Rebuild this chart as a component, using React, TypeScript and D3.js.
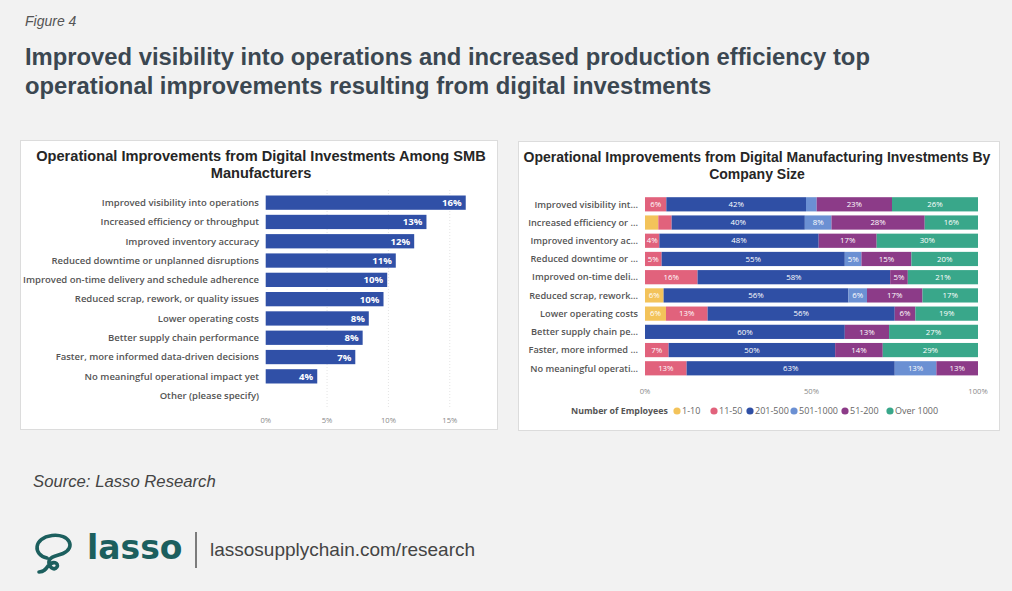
import React from 'react';
import * as d3 from 'd3';

// ---- data ----
const leftCategories = [
  'Improved visibility into operations',
  'Increased efficiency or throughput',
  'Improved inventory accuracy',
  'Reduced downtime or unplanned disruptions',
  'Improved on-time delivery and schedule adherence',
  'Reduced scrap, rework, or quality issues',
  'Lower operating costs',
  'Better supply chain performance',
  'Faster, more informed data-driven decisions',
  'No meaningful operational impact yet',
  'Other (please specify)',
];
const leftValues = [16.3, 13.1, 12.1, 10.6, 9.9, 9.6, 8.4, 7.9, 7.3, 4.2, 0];
const leftTicks = [0, 5, 10, 15];

const rightCategories = [
  'Improved visibility int...',
  'Increased efficiency or ...',
  'Improved inventory ac...',
  'Reduced downtime or ...',
  'Improved on-time deli...',
  'Reduced scrap, rework...',
  'Lower operating costs',
  'Better supply chain pe...',
  'Faster, more informed ...',
  'No meaningful operati...',
];
const sizeGroups = ['1-10', '11-50', '201-500', '501-1000', '51-200', 'Over 1000'];
const size1to10 = [0, 4, 0, 0, 0, 5.6, 6.3, 0, 0, 0];
const size11to50 = [6.4, 4, 4.3, 5, 15.8, 0, 12.5, 0, 7.1, 12.5];
const size201to500 = [41.9, 40, 47.8, 55, 57.9, 55.6, 56.2, 60, 50, 62.5];
const size501to1000 = [3.2, 8, 0, 5, 0, 5.6, 0, 0, 0, 12.5];
const size51to200 = [22.6, 28, 17.4, 15, 5.3, 16.7, 6.2, 13.3, 14.3, 12.5];
const sizeOver1000 = [25.8, 16, 30.4, 20, 21.1, 16.7, 18.8, 26.7, 28.6, 0];
const rightTicks = [0, 0.5, 1];

const sizeColors = ['#f3c35a', '#e1627c', '#2f4fa5', '#6b90d3', '#8c3b88', '#39a78a'];

const FONT = '"Liberation Sans", Arial, sans-serif';
const UI = '"Open Sans", "Noto Sans", sans-serif';

const LeftChart = () => {
  const x = d3.scaleLinear().domain([0, 18]).range([265.7, 486.6]);
  const y = d3.scaleBand().domain(leftCategories).range([193, 405.3]).paddingInner(0.26).paddingOuter(0.13);
  return (
    <g>
      <rect x={20.5} y={140.5} width={477} height={289} fill="#fff" stroke="#dcdcdc" />
      <text x={261} y={161} textAnchor="middle" fontFamily={FONT} fontWeight="bold" fontSize={14.6} fill="#262626">
        Operational Improvements from Digital Investments Among SMB
      </text>
      <text x={261} y={177.5} textAnchor="middle" fontFamily={FONT} fontWeight="bold" fontSize={14.6} fill="#262626">
        Manufacturers
      </text>
      {leftTicks.slice(1).map((t) => (
        <line key={t} x1={x(t)} x2={x(t)} y1={190} y2={407} stroke="#e4e4e4" strokeDasharray="1,2" />
      ))}
      {leftCategories.map((c, i) => (
        <g key={c}>
          <text x={259} y={(y(c) ?? 0) + y.bandwidth() / 2} dy="0.35em" textAnchor="end" fontFamily={UI} fontWeight={600} fontSize={9.5} fill="#555">
            {c}
          </text>
          {leftValues[i] > 0 && (
            <>
              <rect x={x(0)} y={y(c)} width={x(leftValues[i]) - x(0)} height={y.bandwidth()} fill="#3050a7" />
              <text x={x(leftValues[i]) - 4} y={(y(c) ?? 0) + y.bandwidth() / 2} dy="0.36em" textAnchor="end" fontFamily={UI} fontWeight={700} fontSize={9.6} fill="#fff">
                {Math.round(leftValues[i])}%
              </text>
            </>
          )}
        </g>
      ))}
      {leftTicks.map((t) => (
        <text key={t} x={x(t)} y={420} dy="0.35em" textAnchor="middle" fontFamily={UI} fontSize={7.6} fill="#8a8a8a">
          {t}%
        </text>
      ))}
    </g>
  );
};

const RightChart = () => {
  const series = [size1to10, size11to50, size201to500, size501to1000, size51to200, sizeOver1000];
  const rows = rightCategories.map((c, i) => {
    const r: Record<string, number | string> = { cat: c };
    sizeGroups.forEach((g, k) => (r[g] = series[k][i]));
    return r;
  });
  const stacked = d3.stack<any>().keys(sizeGroups).offset(d3.stackOffsetExpand)(rows);
  const x = d3.scaleLinear().domain([0, 1]).range([645, 978]);
  const y = d3.scaleBand().domain(rightCategories).range([195.2, 377.4]).paddingInner(0.22).paddingOuter(0.11);

  const legendItems = [
    { x: 677, label: '1-10' },
    { x: 714, label: '11-50' },
    { x: 750, label: '201-500' },
    { x: 794, label: '501-1000' },
    { x: 845, label: '51-200' },
    { x: 890, label: 'Over 1000' },
  ];

  return (
    <g>
      <rect x={518.5} y={141.5} width={481} height={289} fill="#fff" stroke="#dcdcdc" />
      <text x={757} y={162} textAnchor="middle" fontFamily={FONT} fontWeight="bold" fontSize={14} fill="#262626">
        Operational Improvements from Digital Manufacturing Investments By
      </text>
      <text x={757} y={178.5} textAnchor="middle" fontFamily={FONT} fontWeight="bold" fontSize={14} fill="#262626">
        Company Size
      </text>
      {rightCategories.map((c) => (
        <text key={c} x={638} y={(y(c) ?? 0) + y.bandwidth() / 2} dy="0.35em" textAnchor="end" fontFamily={UI} fontWeight={600} fontSize={9.2} fill="#555">
          {c}
        </text>
      ))}
      {stacked.map((s, k) => (
        <g key={s.key} fill={sizeColors[k]}>
          {s.map((d, i) => {
            const w = x(d[1]) - x(d[0]);
            if (w <= 0) return null;
            const v = series[k][i];
            const yc = (y(rightCategories[i]) ?? 0) + y.bandwidth() / 2;
            return (
              <g key={i}>
                <rect x={x(d[0])} y={y(rightCategories[i])} width={w} height={y.bandwidth()} />
                {w >= 14 && (
                  <text x={x(d[0]) + w / 2} y={yc} dy="0.35em" textAnchor="middle" fontFamily={UI} fontSize={7.8} fill="#fff">
                    {Math.round(v)}%
                  </text>
                )}
              </g>
            );
          })}
        </g>
      ))}
      {rightTicks.map((t) => (
        <text key={t} x={x(t)} y={391} dy="0.35em" textAnchor="middle" fontFamily={UI} fontSize={7.6} fill="#8a8a8a">
          {Math.round(t * 100)}%
        </text>
      ))}
      <text x={571} y={411} dy="0.35em" fontFamily={UI} fontWeight={700} fontSize={8.8} fill="#555">
        Number of Employees
      </text>
      {legendItems.map((l, k) => (
        <g key={l.label}>
          <circle cx={l.x} cy={411} r={3.6} fill={sizeColors[k]} />
          <text x={l.x + 5} y={411} dy="0.35em" fontFamily={UI} fontSize={9} fill="#666">
            {l.label}
          </text>
        </g>
      ))}
    </g>
  );
};

const Logo = () => (
  <g>
    <path
      d="M47 558 C33 555 33 538 52 535.5 C70 533.5 76 548 63 553.5 C57 556 50 556 49 561 C48 567 54 571 57 567 C59 563 53 560 48 566 C46 569 44 572 39 572"
      fill="none"
      stroke="#1c5f5e"
      strokeWidth={3.6}
      strokeLinecap="round"
    />
    <text x={87} y={559} fontFamily='"DejaVu Sans", sans-serif' fontWeight="bold" fontSize={33} fill="#1c5f5e">
      lasso
    </text>
    <line x1={196} x2={196} y1={532} y2={568} stroke="#555" strokeWidth={1.5} />
    <text x={210} y={556} fontFamily={FONT} fontSize={19} fill="#444">
      lassosupplychain.com/research
    </text>
  </g>
);

export default function App() {
  return (
    <svg width={1012} height={591} style={{ position: 'absolute', left: 0, top: 0 }}>
      <rect width={1012} height={591} fill="#f2f2f2" />
      <text x={25} y={26} fontFamily={FONT} fontStyle="italic" fontSize={14} fill="#555">
        Figure 4
      </text>
      <text x={25} y={65} fontFamily={FONT} fontWeight="bold" fontSize={23.8} fill="#3b4751">
        Improved visibility into operations and increased production efficiency top
      </text>
      <text x={25} y={94} fontFamily={FONT} fontWeight="bold" fontSize={23.8} fill="#3b4751">
        operational improvements resulting from digital investments
      </text>
      <LeftChart />
      <RightChart />
      <text x={33} y={487} fontFamily={FONT} fontStyle="italic" fontSize={16.7} fill="#444">
        Source: Lasso Research
      </text>
      <Logo />
    </svg>
  );
}
